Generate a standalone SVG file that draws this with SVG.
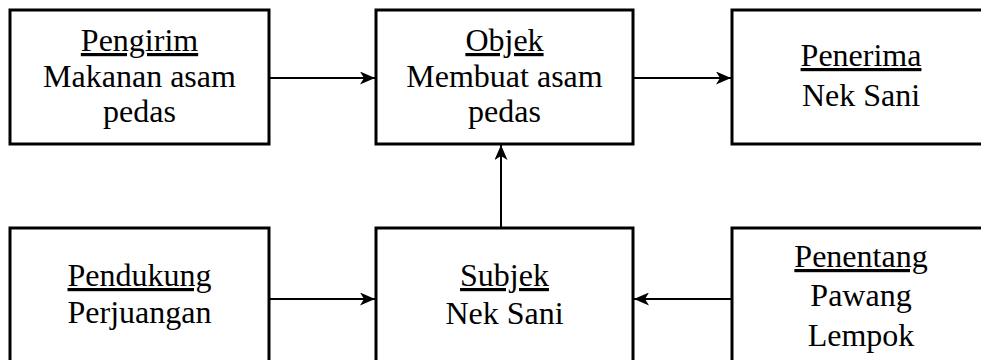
<svg xmlns="http://www.w3.org/2000/svg" width="981" height="360" viewBox="0 0 981 360">
<style>
.box{fill:#fff;stroke:#000;stroke-width:3}
.t{font-size:32px;fill:#000;text-anchor:middle}
.u{text-decoration:underline}
.c{stroke:#000;stroke-width:2;fill:none}
</style>
<defs>
<marker id="ah" viewBox="0 0 15 13" refX="15" refY="6.5" markerWidth="15" markerHeight="13" markerUnits="userSpaceOnUse" orient="auto">
<path d="M0,0 L15,6.5 L0,13 L4,6.5 z" fill="#000"/>
</marker>
</defs>
<rect width="981" height="360" fill="#fff"/>
<g font-family="Liberation Serif, Tinos, Times New Roman, DejaVu Serif, serif">
<g id="pengirim">
<rect class="box" x="10" y="10" width="259" height="134"/>
<text class="t" x="139.5" y="51"><tspan class="u">Pengirim</tspan></text>
<text class="t" x="139.5" y="87">Makanan asam</text>
<text class="t" x="139.5" y="122">pedas</text>
</g>
<g id="objek">
<rect class="box" x="376" y="10" width="257" height="134"/>
<text class="t" x="504.5" y="51"><tspan class="u">Objek</tspan></text>
<text class="t" x="504.5" y="87">Membuat asam</text>
<text class="t" x="504.5" y="122">pedas</text>
</g>
<g id="penerima">
<rect class="box" x="732" y="10" width="258" height="134"/>
<text class="t" x="861" y="66"><tspan class="u">Penerima</tspan></text>
<text class="t" x="861" y="106">Nek Sani</text>
</g>
<g id="pendukung">
<rect class="box" x="10" y="228" width="259" height="160"/>
<text class="t" x="139.5" y="286"><tspan class="u">Pendukung</tspan></text>
<text class="t" x="139.5" y="323">Perjuangan</text>
</g>
<g id="subjek">
<rect class="box" x="376" y="228" width="257" height="160"/>
<text class="t" x="504.5" y="286"><tspan class="u">Subjek</tspan></text>
<text class="t" x="504.5" y="324">Nek Sani</text>
</g>
<g id="penentang">
<rect class="box" x="732" y="228" width="258" height="160"/>
<text class="t" x="861" y="267"><tspan class="u">Penentang</tspan></text>
<text class="t" x="861" y="306">Pawang</text>
<text class="t" x="861" y="346">Lempok</text>
</g>
</g>
<g id="connectors">
<line class="c" x1="269" y1="78" x2="375" y2="78" marker-end="url(#ah)"/>
<line class="c" x1="633" y1="78" x2="731" y2="78" marker-end="url(#ah)"/>
<line class="c" x1="501" y1="228" x2="501" y2="145" marker-end="url(#ah)"/>
<line class="c" x1="269" y1="299" x2="375" y2="299" marker-end="url(#ah)"/>
<line class="c" x1="732" y1="299" x2="634" y2="299" marker-end="url(#ah)"/>
</g>
</svg>
